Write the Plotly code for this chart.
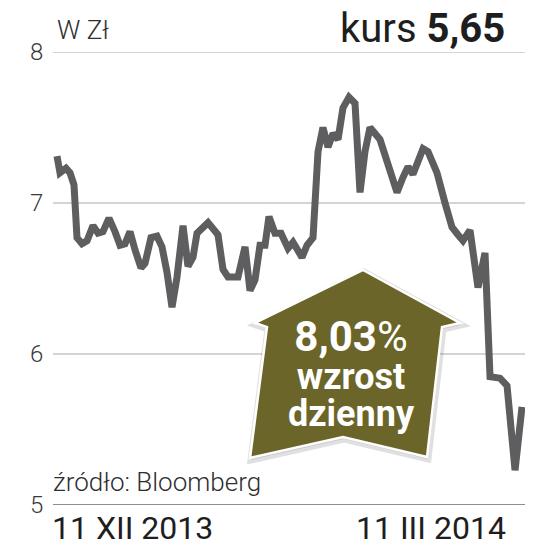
import plotly.graph_objects as go

# days since 11 XII 2013
days = [0, 0.58, 1.74, 2.52, 3.29, 3.87, 4.84, 5.81, 6.97, 7.94, 8.90, 10.06, 11.23, 12.19,
        13.16, 14.13, 15.10, 16.26, 17.03, 18.19, 19.35, 20.32, 21.29, 22.26, 23.23, 24.39,
        25.35, 26.32, 27.10, 29.23, 31.16, 32.13, 33.10, 35.03, 36.39, 37.35, 38.32, 39.29,
        40.26, 41.03, 42.19, 43.35, 44.71, 45.68, 47.42, 48.39, 49.55, 50.52, 51.48, 52.45,
        53.42, 54.39, 55.35, 56.52, 57.68, 58.65, 59.61, 60.58, 62.52, 63.87, 65.81, 66.97,
        67.94, 68.90, 70.84, 71.81, 73.55, 75.10, 76.45, 77.61, 78.58, 79.94, 81.48, 82.84,
        83.81, 85.74, 87.10, 88.65, 90]
price = [7.31, 7.20, 7.23, 7.20, 7.12, 6.77, 6.73, 6.75, 6.85, 6.80, 6.81, 6.90, 6.81, 6.72,
         6.73, 6.81, 6.69, 6.57, 6.60, 6.77, 6.78, 6.71, 6.54, 6.31, 6.51, 6.85,
         6.58, 6.64, 6.80, 6.87, 6.79, 6.56, 6.51, 6.51, 6.71, 6.42, 6.49, 6.72,
         6.72, 6.91, 6.80, 6.80, 6.70, 6.74, 6.64, 6.72, 6.77, 7.34, 7.50, 7.37,
         7.46, 7.42, 7.63, 7.70, 7.66, 7.07, 7.34, 7.50, 7.42, 7.26, 7.07, 7.17,
         7.24, 7.19, 7.36, 7.34, 7.20, 7.00, 6.84, 6.79, 6.75, 6.82, 6.44, 6.67,
         5.85, 5.84, 5.79, 5.23, 5.65]

y_ticks = [5, 6, 7, 8]
x_labels = ["11 XII 2013", "11 III 2014"]
unit_label = "W Zł"
kurs_label = "kurs"
kurs_value = "5,65"
change_value = "8,03"
change_l1 = "wzrost"
change_l2 = "dzienny"
source = "źródło: Bloomberg"

W, H = 541, 553
L, R, T, B = 53, 525, 52, 505


def px(x):
    return (x - L) / (R - L)


def py(y):
    return (B - y) / (B - T)


fig = go.Figure()
fig.add_trace(go.Scatter(x=days, y=price, mode="lines",
                         line=dict(color="#5e5e60", width=7),
                         cliponaxis=False, hoverinfo="skip"))

shapes = []
for v in y_ticks:
    shapes.append(dict(type="line", xref="paper", yref="y", x0=0, x1=1, y0=v, y1=v,
                       line=dict(color="#8e8e8e" if v == 5 else "#d4d4d4", width=2),
                       layer="below"))

arrow_px = [(363, 270), (460, 323), (442, 327), (427, 457), (343, 437),
            (250, 458), (267, 327), (255, 323)]


def path(pts, dx=0, dy=0):
    s = "M " + " L ".join(f"{px(x + dx):.4f},{py(y + dy):.4f}" for x, y in pts) + " Z"
    return s


shapes.append(dict(type="path", xref="paper", yref="paper", path=path(arrow_px, 1, 2),
                   fillcolor="rgba(0,0,0,0.10)", line=dict(color="rgba(0,0,0,0.12)", width=7),
                   layer="above"))
shapes.append(dict(type="path", xref="paper", yref="paper", path=path(arrow_px),
                   fillcolor="#6b6529", line=dict(color="white", width=2.5), layer="above"))

ann = []
txt = "#2e2e2e"
for v in y_ticks:
    ann.append(dict(xref="paper", yref="y", x=px(45), y=v, text=str(v), showarrow=False,
                    xanchor="right", yanchor="middle",
                    font=dict(family="Roboto", size=24, color="#3a3a3a", weight=300)))
ann.append(dict(xref="paper", yref="paper", x=px(55), y=py(30), text=unit_label, showarrow=False,
                xanchor="left", yanchor="middle",
                font=dict(family="Roboto", size=26, color=txt, weight=300)))
ann.append(dict(xref="paper", yref="paper", x=px(507), y=py(29),
                text=f"{kurs_label} <b>{kurs_value}</b>", showarrow=False,
                xanchor="right", yanchor="middle",
                font=dict(family="Roboto", size=40, color="#1e1e1e")))
ann.append(dict(xref="paper", yref="paper", x=px(51), y=py(482), text=source, showarrow=False,
                xanchor="left", yanchor="middle",
                font=dict(family="Roboto", size=26, color=txt, weight=300)))
ann.append(dict(xref="paper", yref="paper", x=px(50), y=py(528), text=x_labels[0], showarrow=False,
                xanchor="left", yanchor="middle",
                font=dict(family="Roboto", size=32, color="#1e1e1e")))
ann.append(dict(xref="paper", yref="paper", x=px(508), y=py(528), text=x_labels[1], showarrow=False,
                xanchor="right", yanchor="middle",
                font=dict(family="Roboto", size=32, color="#1e1e1e")))
badge = (f"<span style='font-size:42px'><b>{change_value}</b>%</span><br>"
         f"<span style='font-size:36px'><b>{change_l1}</b></span><br>"
         f"<span style='font-size:36px'><b>{change_l2}</b></span>")
ann.append(dict(xref="paper", yref="paper", x=px(351), y=py(373), text=badge, showarrow=False,
                xanchor="center", yanchor="middle", align="center",
                font=dict(family="Roboto", size=29, color="white")))

# x: px 57 -> day 0, px 522 -> day 90
scale = (522 - 57) / 90
fig.update_layout(
    width=W, height=H,
    margin=dict(l=L, r=W - R, t=T, b=H - B, pad=0),
    paper_bgcolor="white", plot_bgcolor="white",
    showlegend=False,
    xaxis=dict(range=[-(57 - L) / scale, 90 + (R - 522) / scale], visible=False, fixedrange=True),
    yaxis=dict(range=[5, 8], visible=False, fixedrange=True),
    shapes=shapes, annotations=ann,
)
fig.write_html("out.html", config={"displayModeBar": False},
               post_script="document.body.style.margin='0';document.body.style.overflow='hidden';")
